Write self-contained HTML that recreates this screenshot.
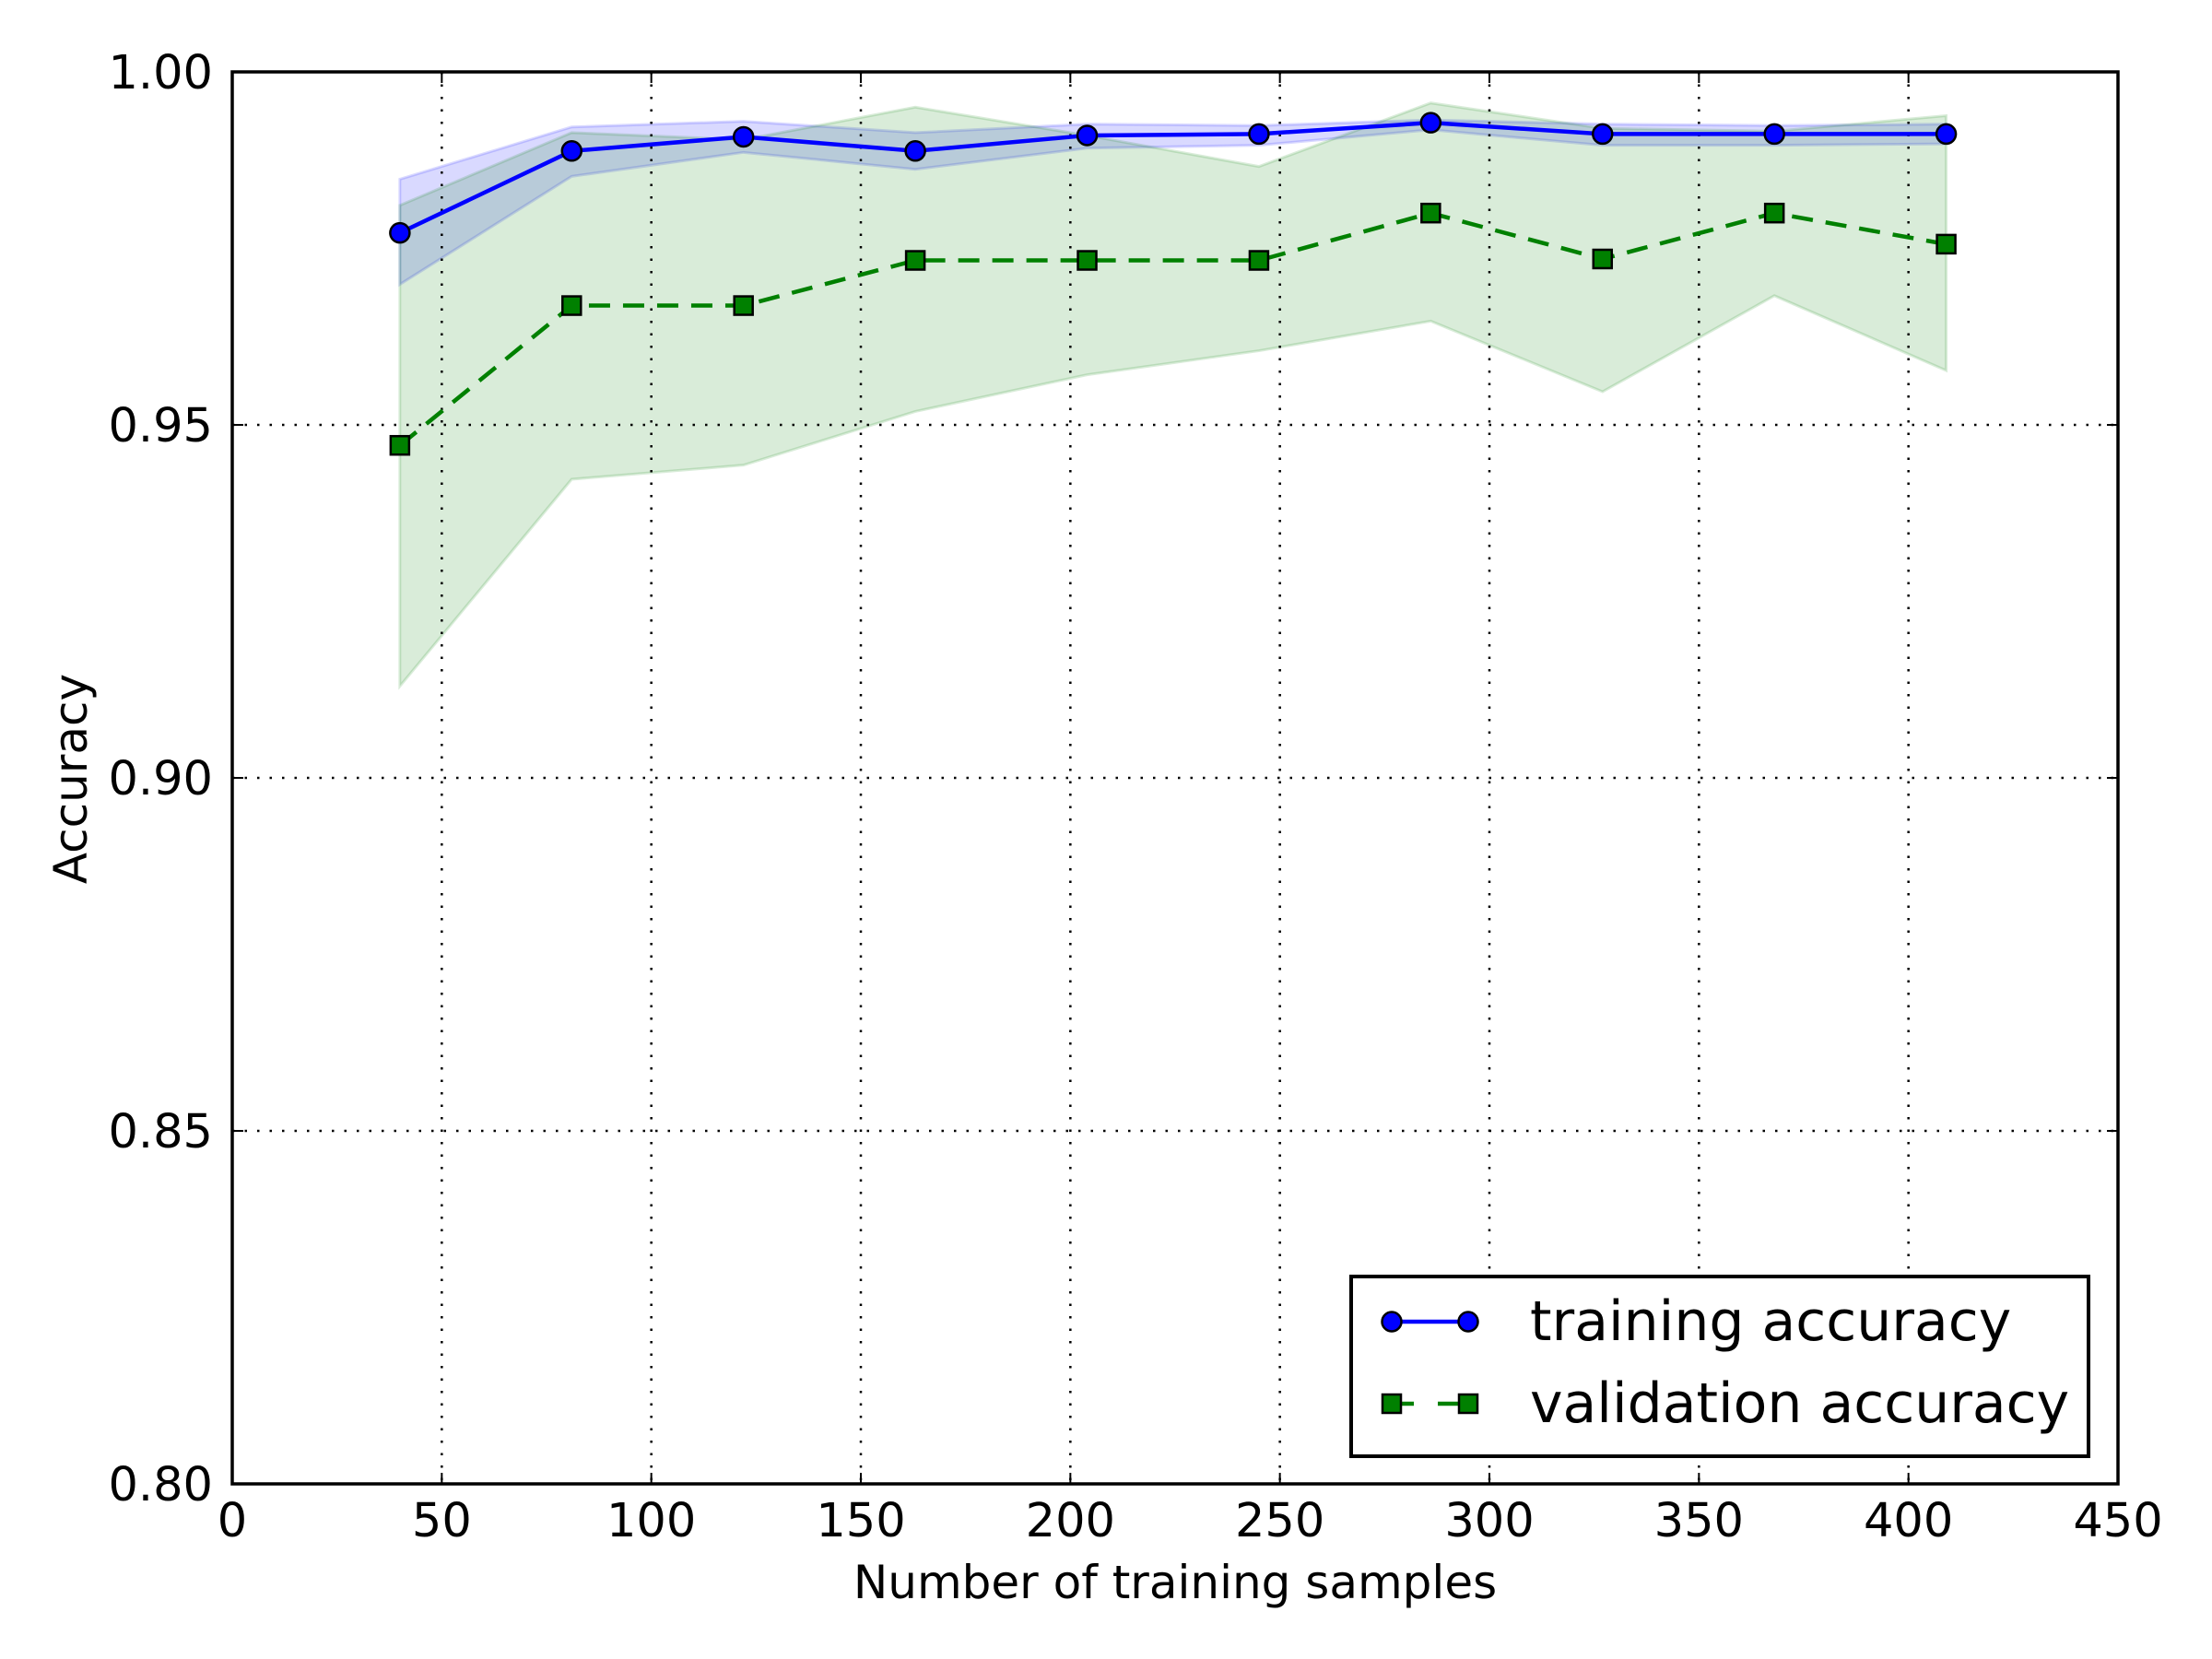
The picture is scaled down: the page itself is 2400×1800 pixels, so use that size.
<!DOCTYPE html>
<html><head><meta charset="utf-8"><style>
html,body{margin:0;padding:0;background:#fff}
svg{display:block}
text{font-family:"DejaVu Sans","Liberation Sans",sans-serif;fill:#000}
</style></head><body>
<svg id="chart" xmlns="http://www.w3.org/2000/svg" width="2400" height="1800" viewBox="0 0 2400 1800">
<rect width="2400" height="1800" fill="#fff"/>
<g id="bands"></g><g id="grid"></g><g id="lines"></g><g id="axes"></g>
</svg>
<script>
const sizes = [40,81,122,163,204,245,286,327,368,409];
const trainMean = [0.9772,0.9888,0.9908,0.9888,0.9910,0.9912,0.9928,0.9912,0.9912,0.9912];
const trainUpper = [0.9848,0.9922,0.9930,0.9914,0.9926,0.9924,0.9932,0.9926,0.9924,0.9926];
const trainLower = [0.9699,0.9852,0.9886,0.9862,0.9892,0.9896,0.9918,0.9896,0.9896,0.9898];
const valMean = [0.9471,0.9669,0.9669,0.9733,0.9733,0.9733,0.9800,0.9735,0.9800,0.9756];
const valUpper = [0.9811,0.9914,0.9904,0.9950,0.9910,0.9866,0.9956,0.9920,0.9916,0.9938];
const valLower = [0.9130,0.9423,0.9443,0.9519,0.9571,0.9605,0.9647,0.9547,0.9683,0.9577];
const xTicks = [0,50,100,150,200,250,300,350,400,450];
const yTicks = [0.80,0.85,0.90,0.95,1.00];

const L=252,R=2298,T=78,B=1610;
const NS='http://www.w3.org/2000/svg';
const X=v=>L+(v-0)/450*(R-L);
const Y=v=>B-(v-0.8)/0.2*(B-T);
function mk(tag,attrs,parent){const e=document.createElementNS(NS,tag);for(const k in attrs)e.setAttribute(k,attrs[k]);parent.appendChild(e);return e;}
const bands=document.getElementById('bands'),grid=document.getElementById('grid'),lines=document.getElementById('lines'),axes=document.getElementById('axes');

function band(up,lo,fill,name){
  let pts=sizes.map((s,i)=>X(s)+','+Y(up[i]));
  pts=pts.concat(sizes.slice().reverse().map((s,j)=>{const i=sizes.length-1-j;return X(s)+','+Y(lo[i]);}));
  const p=mk('polygon',{points:pts.join(' '),fill:fill,'fill-opacity':0.15,stroke:fill,'stroke-opacity':0.15,'stroke-width':3},bands);
  
  
}
band(trainUpper,trainLower,'#0000ff','training-std-band');
band(valUpper,valLower,'#008000','validation-std-band');

xTicks.slice(1,-1).forEach(t=>{const g=mk('line',{x1:X(t),x2:X(t),y1:T,y2:B,stroke:'#000','stroke-width':2.5,'stroke-dasharray':'2.5,11'},grid);

});
yTicks.slice(1,-1).forEach(t=>{const g=mk('line',{x1:L,x2:R,y1:Y(t),y2:Y(t),stroke:'#000','stroke-width':2.5,'stroke-dasharray':'2.5,11'},grid);

});

const tl=mk('polyline',{points:sizes.map((s,i)=>X(s)+','+Y(trainMean[i])).join(' '),fill:'none',stroke:'#0000ff','stroke-width':4.5},lines);


const vl=mk('polyline',{points:sizes.map((s,i)=>X(s)+','+Y(valMean[i])).join(' '),fill:'none',stroke:'#008000','stroke-width':4.5,'stroke-dasharray':'23,14'},lines);


sizes.forEach((s,i)=>{
  const c=mk('ellipse',{cx:X(s),cy:Y(trainMean[i]),rx:10.5,ry:10.5,fill:'#0000ff',stroke:'#000','stroke-width':2.5},lines);
  
  
  const q=mk('rect',{x:X(s)-10,y:Y(valMean[i])-10,width:20,height:20,fill:'#008000',stroke:'#000','stroke-width':2.5},lines);
  
  
});

const fr=mk('rect',{x:L,y:T,width:R-L,height:B-T,fill:'none',stroke:'#000','stroke-width':3.5},axes);


xTicks.forEach(t=>{
  mk('line',{x1:X(t),x2:X(t),y1:B,y2:B-12,stroke:'#000','stroke-width':2},axes);
  mk('line',{x1:X(t),x2:X(t),y1:T,y2:T+12,stroke:'#000','stroke-width':2},axes);
  const tx=mk('text',{x:X(t),y:1667,'text-anchor':'middle','font-size':51},axes);tx.textContent=String(t);
  
  
});
yTicks.forEach(t=>{
  mk('line',{x1:L,x2:L+12,y1:Y(t),y2:Y(t),stroke:'#000','stroke-width':2},axes);
  mk('line',{x1:R,x2:R-12,y1:Y(t),y2:Y(t),stroke:'#000','stroke-width':2},axes);
  const tx=mk('text',{x:231,y:Y(t)+18,'text-anchor':'end','font-size':51},axes);tx.textContent=t.toFixed(2);
  
  
});
</script>
<svg style="position:absolute;left:0;top:0" width="2400" height="1800" xmlns="http://www.w3.org/2000/svg">
<text x="1275" y="1734" text-anchor="middle" font-size="50">Number of training samples</text>
<text x="94" y="845" text-anchor="middle" font-size="50" transform="rotate(-90 94 845)">Accuracy</text>
<g>
<rect x="1466" y="1385" width="800" height="195" fill="#fff" stroke="#000" stroke-width="4"/>
<g>
<line x1="1510" y1="1434" x2="1593" y2="1434" stroke="#0000ff" stroke-width="4.5"/>
<ellipse cx="1510" cy="1434" rx="10.5" ry="10.5" fill="#0000ff" stroke="#000" stroke-width="2.5"/>
<ellipse cx="1593" cy="1434" rx="10.5" ry="10.5" fill="#0000ff" stroke="#000" stroke-width="2.5"/>
<text x="1660" y="1454" font-size="60">training accuracy</text>
</g>
<g>
<line x1="1510" y1="1523" x2="1534" y2="1523" stroke="#008000" stroke-width="4.5"/>
<line x1="1560" y1="1523" x2="1593" y2="1523" stroke="#008000" stroke-width="4.5"/>
<rect x="1500" y="1513" width="20" height="20" fill="#008000" stroke="#000" stroke-width="2.5"/>
<rect x="1583" y="1513" width="20" height="20" fill="#008000" stroke="#000" stroke-width="2.5"/>
<text x="1660" y="1543" font-size="60">validation accuracy</text>
</g>
</g>
</svg>
</body></html>
